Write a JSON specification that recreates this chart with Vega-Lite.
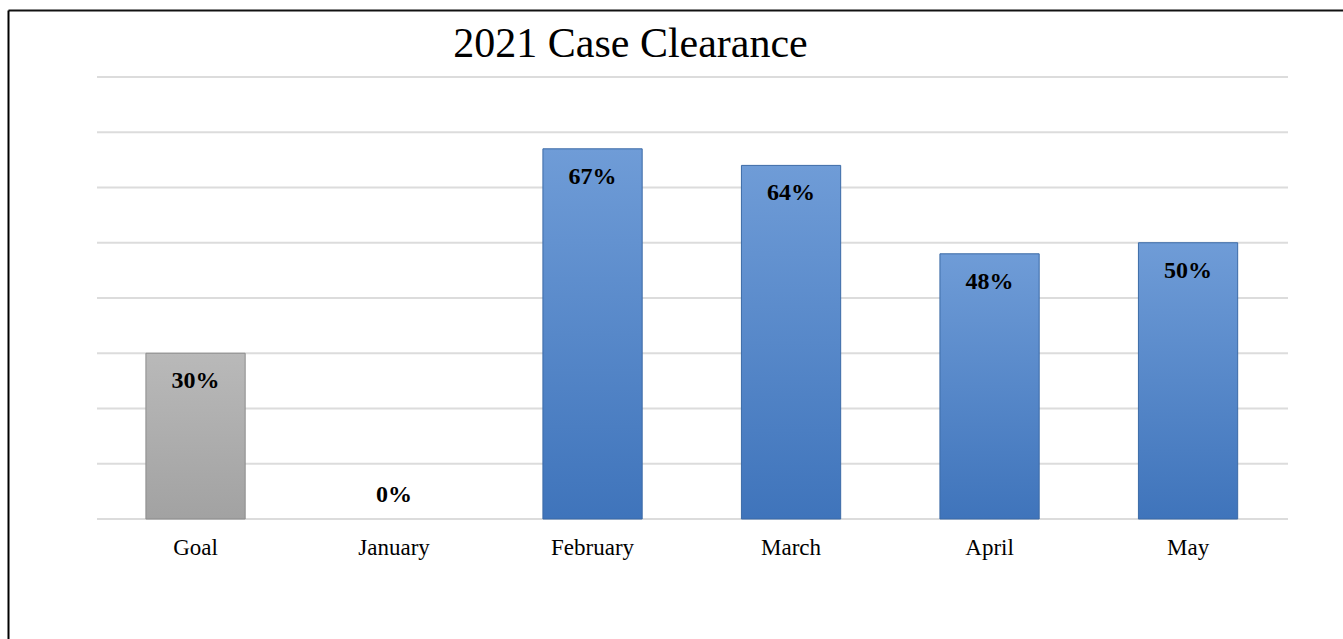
{
  "$schema": "https://vega.github.io/schema/vega-lite/v6.json",
  "autosize": "none",
  "width": 1335,
  "height": 629,
  "padding": {"left": 8, "top": 10, "right": 0, "bottom": 0},
  "background": "white",
  "title": {
    "text": "2021 Case Clearance",
    "font": "Liberation Serif",
    "fontSize": 42,
    "fontWeight": "normal",
    "color": "#000000",
    "anchor": "middle",
    "frame": "group",
    "baseline": "alphabetic",
    "offset": -89,
    "dx": -45
  },
  "datasets": {
    "bars": [
      {"month": "Goal", "value": 0.30, "kind": "goal"},
      {"month": "January", "value": 0.0, "kind": "month"},
      {"month": "February", "value": 0.67, "kind": "month"},
      {"month": "March", "value": 0.64, "kind": "month"},
      {"month": "April", "value": 0.48, "kind": "month"},
      {"month": "May", "value": 0.50, "kind": "month"}
    ],
    "grid": [
      {"g": 0.0}, {"g": 0.1}, {"g": 0.2}, {"g": 0.3}, {"g": 0.4},
      {"g": 0.5}, {"g": 0.6}, {"g": 0.7}, {"g": 0.8}
    ]
  },
  "config": {
    "view": {"stroke": null},
    "axis": {
      "domain": true,
      "domainColor": "#000000",
      "domainWidth": 2,
      "labels": false,
      "ticks": false,
      "tickSize": 0,
      "grid": false,
      "title": null
    },
    "axisLeft": {"domainColor": "#000000"},
    "axisTop": {"domainColor": "#111111"},
    "axisRight": {"domain": false},
    "axisBottom": {"domain": false}
  },
  "resolve": {"scale": {"x": "independent"}},
  "layer": [
    {
      "data": {"name": "grid"},
      "mark": {"type": "rule", "color": "#dcdcdc", "strokeWidth": 2},
      "encoding": {
        "x": {"datum": 0, "type": "quantitative", "scale": {"domain": [0, 1], "range": [89, 1280]}, "axis": null},
        "x2": {"datum": 1},
        "y": {"field": "g", "type": "quantitative", "axis": {"orient": "left", "title": null}}
      }
    },
    {
      "data": {"name": "bars"},
      "layer": [
        {
          "transform": [{"filter": "datum.value > 0"}],
          "mark": {"type": "bar", "strokeWidth": 1},
          "encoding": {
            "x": {
              "field": "month", "type": "nominal", "sort": null,
              "scale": {"domain": ["Goal", "January", "February", "March", "April", "May"], "paddingInner": 0.5, "paddingOuter": 0.6127, "align": 0.567},
              "axis": {"orient": "top", "title": null}
            },
            "y": {
              "field": "value", "type": "quantitative",
              "scale": {"domain": [-0.217195, 0.921267], "nice": false, "zero": false},
              "axis": {"orient": "left", "title": null}
            },
            "color": {
              "condition": {
                "test": "datum.kind === 'goal'",
                "value": {"gradient": "linear", "x1": 0, "y1": 0, "x2": 0, "y2": 1,
                  "stops": [{"offset": 0, "color": "#b9b9b9"}, {"offset": 1, "color": "#a2a2a2"}]}
              },
              "value": {"gradient": "linear", "x1": 0, "y1": 0, "x2": 0, "y2": 1,
                "stops": [{"offset": 0, "color": "#6f9cd7"}, {"offset": 1, "color": "#3f74bb"}]}
            },
            "stroke": {
              "condition": {"test": "datum.kind === 'goal'", "value": "#8c8c8c"},
              "value": "#3b6aa6"
            }
          }
        },
        {
          "transform": [{"filter": "datum.value > 0"}],
          "mark": {"type": "text", "font": "Liberation Serif", "fontSize": 24, "fontWeight": "bold", "color": "#000000", "baseline": "alphabetic", "dy": 35},
          "encoding": {
            "x": {"field": "month", "type": "nominal", "sort": null, "axis": {"orient": "top", "title": null}},
            "y": {"field": "value", "type": "quantitative", "axis": {"orient": "left", "title": null}},
            "text": {"field": "value", "type": "quantitative", "format": ".0%"}
          }
        },
        {
          "transform": [{"filter": "datum.value === 0"}],
          "mark": {"type": "text", "font": "Liberation Serif", "fontSize": 24, "fontWeight": "bold", "color": "#000000", "baseline": "alphabetic", "dy": -17},
          "encoding": {
            "x": {"field": "month", "type": "nominal", "sort": null, "axis": {"orient": "top", "title": null}},
            "y": {"field": "value", "type": "quantitative", "axis": {"orient": "left", "title": null}},
            "text": {"field": "value", "type": "quantitative", "format": ".0%"}
          }
        },
        {
          "mark": {"type": "text", "font": "Liberation Serif", "fontSize": 23, "color": "#000000", "baseline": "alphabetic", "dy": 36},
          "encoding": {
            "x": {"field": "month", "type": "nominal", "sort": null, "axis": {"orient": "top", "title": null}},
            "y": {"datum": 0, "type": "quantitative", "axis": {"orient": "left", "title": null}},
            "text": {"field": "month", "type": "nominal"}
          }
        }
      ]
    }
  ]
}
